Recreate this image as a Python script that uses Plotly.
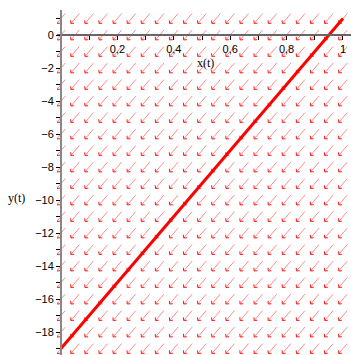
import numpy as np
import plotly.graph_objects as go

# Direction field grid and constant field (dx/dt, dy/dt)
grid_x = [0.0, 0.05, 0.1, 0.15, 0.2, 0.25, 0.3, 0.35, 0.4, 0.45, 0.5,
          0.55, 0.6, 0.65, 0.7, 0.75, 0.8, 0.85, 0.9, 0.95, 1.0]
grid_y = [1, 0, -1, -2, -3, -4, -5, -6, -7, -8, -9, -10,
          -11, -12, -13, -14, -15, -16, -17, -18, -19]
field_dx = -1.0
field_dy = -20.0

# Solution curve through (0, -19)
sol_x = [0.0, 1.0]
sol_y = [-19.0, 1.0]

# Tick labels
x_ticks = [0.1, 0.2, 0.3, 0.4, 0.5, 0.6, 0.7, 0.8, 0.9, 1.0]
x_ticktext = ["", "0,2", "", "0,4", "", "0,6", "", "0,8", "", "1"]
y_ticks = [1, 0, -1, -2, -3, -4, -5, -6, -7, -8, -9, -10,
           -11, -12, -13, -14, -15, -16, -17, -18, -19]
y_ticktext = ["", "0", "", "\u22122", "", "\u22124", "", "\u22126", "", "\u22128",
              "", "\u221210", "", "\u221212", "", "\u221214", "", "\u221216", "",
              "\u221218", ""]

# Figure geometry
W, H = 351, 355
ML, MR, MT, MB = 57, 0, 10, 0
PW, PH = W - ML - MR, H - MT - MB
x_range = [-0.0142, 1.0284]
y_range = [-19.39, 1.515]
kx = PW / (x_range[1] - x_range[0])   # px per x unit
ky = PH / (y_range[1] - y_range[0])   # px per y unit

# Arrow geometry in screen pixels
arrow_len = 13.0
barb_len = 3.2
barb_ang = np.deg2rad(45)

ux, uy = field_dx * kx, field_dy * ky
n = np.hypot(ux, uy)
ux, uy = ux / n, uy / n

shaft_x, shaft_y, head_x, head_y = [], [], [], []
for gx in grid_x:
    for gy in grid_y:
        tail = (gx - ux * arrow_len / 2 / kx, gy - uy * arrow_len / 2 / ky)
        tip = (gx + ux * arrow_len / 2 / kx, gy + uy * arrow_len / 2 / ky)
        shaft_x += [tail[0], tip[0], None]
        shaft_y += [tail[1], tip[1], None]
        for s in (1, -1):
            c, sn = np.cos(s * barb_ang), np.sin(s * barb_ang)
            bx = -(ux * c - uy * sn)
            by = -(ux * sn + uy * c)
            head_x += [tip[0], tip[0] + bx * barb_len / kx, None]
            head_y += [tip[1], tip[1] + by * barb_len / ky, None]

fig = go.Figure()
fig.add_trace(go.Scatter(x=shaft_x, y=shaft_y, mode="lines",
                         line=dict(color="#ff8c8c", width=1), hoverinfo="skip"))
fig.add_trace(go.Scatter(x=head_x, y=head_y, mode="lines",
                         line=dict(color="#ff1a1a", width=1), hoverinfo="skip"))
fig.add_trace(go.Scatter(x=sol_x, y=sol_y, mode="lines",
                         line=dict(color="#ff0000", width=3), hoverinfo="skip"))

# Axes crossing at the origin
x_axis_pos = 1 - (y_range[1] - 0) * ky / PH
y_axis_pos = (0 - x_range[0]) * kx / PW

serif = "Liberation Serif, Times New Roman, serif"

fig.update_layout(
    width=W, height=H,
    margin=dict(l=ML, r=MR, t=MT, b=MB, pad=0),
    paper_bgcolor="white", plot_bgcolor="white",
    showlegend=False,
    separators=", ",
    font=dict(family="Liberation Sans, Arial, sans-serif", size=11, color="black"),
    xaxis=dict(range=x_range, anchor="free", position=x_axis_pos, side="bottom",
               tickmode="array", tickvals=x_ticks, ticktext=x_ticktext,
               ticks="outside", ticklen=4, tickcolor="black",
               showline=True, linecolor="#666666", linewidth=2,
               showgrid=False, zeroline=False, fixedrange=True),
    yaxis=dict(range=y_range, anchor="free", position=y_axis_pos, side="left",
               tickmode="array", tickvals=y_ticks, ticktext=y_ticktext,
               ticks="outside", ticklen=4, tickcolor="black",
               showline=True, linecolor="#888888", linewidth=2,
               showgrid=False, zeroline=False, fixedrange=True),
    annotations=[
        dict(text="x(t)", xref="paper", yref="paper",
             x=(205 - ML) / PW, y=(H - 63) / PH,
             xanchor="center", yanchor="middle", showarrow=False,
             font=dict(family=serif, size=12)),
        dict(text="y(t)", xref="paper", yref="paper",
             x=(16 - ML) / PW, y=(H - 198) / PH,
             xanchor="center", yanchor="middle", showarrow=False,
             font=dict(family=serif, size=12)),
    ],
)

fig.write_html("out.html")
